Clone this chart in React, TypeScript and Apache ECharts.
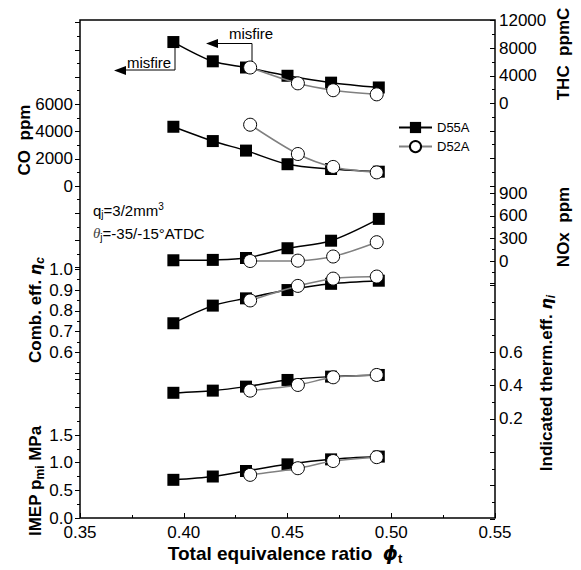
import React, { useEffect, useRef } from "react";
import * as echarts from "echarts";

// ---- data ----
const phiD55A = [0.395, 0.414, 0.43, 0.45, 0.471, 0.494];
const phiD52A = [0.432, 0.455, 0.472, 0.493];

const thcD55A = [8900, 6100, 5200, 4000, 3000, 2300];
const thcD52A = [5200, 2900, 1900, 1300];
const coD55A = [4350, 3300, 2600, 1600, 1250, 1050];
const coD52A = [4500, 2350, 1400, 1000];
const noxD55A = [10, 15, 40, 170, 270, 560];
const noxD52A = [0, 5, 60, 250];
const combD55A = [0.74, 0.825, 0.86, 0.9, 0.93, 0.945];
const combD52A = [0.85, 0.92, 0.955, 0.965];
const thermD55A = [0.357, 0.37, 0.394, 0.434, 0.454, 0.464];
const thermD52A = [0.37, 0.404, 0.45, 0.464];
const imepD55A = [0.69, 0.75, 0.85, 0.97, 1.06, 1.11];
const imepD52A = [0.78, 0.9, 1.03, 1.1];

const xTicks = [0.35, 0.4, 0.45, 0.5, 0.55];

const FONT = "'Liberation Sans', Arial, sans-serif";
const W = 581;
const H = 570;
const L = 80;
const R = W - 495;

const band = (top: number, bottomY: number) => ({
  left: L,
  right: R,
  top,
  bottom: H - bottomY,
});

// panel axes: grid band, range, interval, labeled range, decimals, side
const panels = [
  { key: "co", grid: band(22.6, 267.7), min: -6000, max: 12000, interval: 2000, lo: 0, hi: 6000, dec: 0, pos: "left", a: coD55A, b: coD52A },
  { key: "comb", grid: band(269.3, 373.05), min: 0.5, max: 1.0, interval: 0.1, lo: 0.6, hi: 1.0, dec: 1, pos: "left", a: combD55A, b: combD52A },
  { key: "imep", grid: band(379.7, 518), min: 0, max: 2.5, interval: 0.5, lo: 0, hi: 1.5, dec: 1, pos: "left", a: imepD55A, b: imepD52A },
  { key: "thc", grid: band(20.7, 185.9), min: -12000, max: 12000, interval: 4000, lo: 0, hi: 12000, dec: 0, pos: "right", a: thcD55A, b: thcD52A },
  { key: "nox", grid: band(193.3, 283.6), min: -300, max: 900, interval: 300, lo: 0, hi: 900, dec: 0, pos: "right", a: noxD55A, b: noxD52A },
  { key: "therm", grid: band(285.6, 519), min: -0.4, max: 1.0, interval: 0.2, lo: 0.2, hi: 0.6, dec: 1, pos: "right", a: thermD55A, b: thermD52A },
];

const richBase = { fontFamily: FONT, fontWeight: "bold", fontSize: 17, fill: "#000" };

function buildOption() {
  const grids: any[] = [
    {
      left: L,
      right: R,
      top: 20,
      bottom: H - 518,
      show: true,
      borderColor: "#000",
      borderWidth: 1.5,
      backgroundColor: "transparent",
    },
  ];
  const xAxes: any[] = [
    {
      gridIndex: 0,
      type: "value",
      min: xTicks[0],
      max: xTicks[xTicks.length - 1],
      interval: 0.05,
      axisLine: { show: false },
      axisTick: { show: true, inside: true, length: 5, lineStyle: { color: "#000" } },
      minorTick: { show: true, splitNumber: 2, length: 3, lineStyle: { color: "#000" } },
      splitLine: { show: false },
      axisLabel: {
        fontSize: 17,
        fontFamily: FONT,
        color: "#000",
        margin: 6,
        formatter: (v: number) => v.toFixed(2),
      },
    },
  ];
  const yAxes: any[] = [{ gridIndex: 0, type: "value", show: false }];
  const series: any[] = [];

  panels.forEach((p, i) => {
    const gi = i + 1;
    grids.push({ ...p.grid, show: false });
    xAxes.push({
      gridIndex: gi,
      type: "value",
      min: xTicks[0],
      max: xTicks[xTicks.length - 1],
      show: false,
    });
    const eps = p.interval * 1e-3;
    yAxes.push({
      gridIndex: gi,
      type: "value",
      position: p.pos,
      min: p.min,
      max: p.max,
      interval: p.interval,
      axisLine: { show: false },
      axisTick: { show: true, inside: p.pos === "right", length: 5, lineStyle: { color: "#000" } },
      minorTick: { show: true, splitNumber: 2, length: 3, lineStyle: { color: "#000" } },
      splitLine: { show: false },
      axisLabel: {
        fontSize: 17,
        fontFamily: FONT,
        color: "#000",
        margin: p.pos === "left" ? 7 : 4,
        showMinLabel: true,
        showMaxLabel: true,
        formatter: (v: number) =>
          v >= p.lo - eps && v <= p.hi + eps ? v.toFixed(p.dec) : "",
      },
    });
    series.push({
      name: "D55A",
      type: "line",
      xAxisIndex: gi,
      yAxisIndex: gi,
      data: p.a.map((v, k) => [phiD55A[k], v]),
      symbol: "rect",
      symbolSize: 12,
      smooth: 0.3,
      itemStyle: { color: "#000" },
      lineStyle: { color: "#000", width: 1.5 },
      z: 3,
    });
    series.push({
      name: "D52A",
      type: "line",
      xAxisIndex: gi,
      yAxisIndex: gi,
      data: p.b.map((v, k) => [phiD52A[k], v]),
      symbol: "circle",
      symbolSize: 13,
      smooth: 0.3,
      itemStyle: { color: "#fff", borderColor: "#000", borderWidth: 1 },
      lineStyle: { color: "#808080", width: 1.5 },
      z: 4,
    });
  });

  const vText = (x: number, y: number, text: string, rich: any) => ({
    type: "text",
    x,
    y,
    rotation: Math.PI / 2,
    style: { text, rich, align: "center", verticalAlign: "middle", ...richBase },
  });

  const greek = { ...richBase, fontStyle: "italic", fontFamily: "'DejaVu Sans', sans-serif", fontSize: 16 };
  const sub = { ...richBase, fontStyle: "italic", fontSize: 12, padding: [9, 0, 0, 0] };
  const subUp = { ...richBase, fontSize: 12, padding: [10, 0, 0, 0] };

  const graphic: any[] = [
    vText(24, 140, "{a|CO  ppm}", { a: richBase }),
    vText(35, 310, "{a|Comb. eff. }{b|η}{s|c}", { a: richBase, b: greek, s: sub }),
    vText(35, 481, "{a|IMEP p}{s|mi}{a| MPa}", { a: richBase, s: subUp }),
    vText(563, 54, "{a|THC  ppmC}", { a: richBase }),
    vText(563, 227, "{a|NOx  ppm}", { a: richBase }),
    vText(546, 383, "{a|Indicated therm.eff. }{b|η}{s|i}", { a: richBase, b: greek, s: sub }),
    {
      type: "text",
      x: 285,
      y: 553,
      style: {
        text: "{a|Total equivalence ratio  }{b|ϕ}{s|t}",
        align: "center",
        verticalAlign: "middle",
        rich: {
          a: { ...richBase, fontSize: 19 },
          b: { ...greek, fontSize: 19 },
          s: { ...richBase, fontSize: 13, padding: [10, 0, 0, 0] },
        },
      },
    },
    {
      type: "text",
      x: 93,
      y: 210,
      style: {
        text: "{a|q}{s|j}{a|=3/2mm}{p|3}",
        align: "left",
        verticalAlign: "middle",
        rich: {
          a: { fontFamily: FONT, fontSize: 15, fill: "#000" },
          s: { fontFamily: FONT, fontSize: 10, fill: "#000", padding: [8, 0, 0, 0] },
          p: { fontFamily: FONT, fontSize: 10, fill: "#000", padding: [0, 0, 8, 0] },
        },
      },
    },
    {
      type: "text",
      x: 93,
      y: 233,
      style: {
        text: "{t|θ}{s|j}{a|=-35/-15°ATDC}",
        align: "left",
        verticalAlign: "middle",
        rich: {
          a: { fontFamily: FONT, fontSize: 15, fill: "#000" },
          t: { fontFamily: "'Liberation Serif', serif", fontStyle: "italic", fontSize: 15, fill: "#444" },
          s: { fontFamily: FONT, fontSize: 10, fill: "#000", padding: [8, 0, 0, 0] },
        },
      },
    },
    // misfire annotation 1
    {
      type: "polyline",
      shape: { points: [[175, 47], [175, 70], [122, 70]] },
      style: { stroke: "#000", lineWidth: 1, fill: null },
    },
    {
      type: "polygon",
      shape: { points: [[114, 70.5], [126, 66], [126, 75]] },
      style: { fill: "#000" },
    },
    {
      type: "text",
      x: 127,
      y: 62,
      style: { text: "misfire", fontFamily: FONT, fontSize: 15, fill: "#000", align: "left", verticalAlign: "middle" },
    },
    // misfire annotation 2
    {
      type: "polyline",
      shape: { points: [[252, 61], [252, 43.5], [216, 43.5]] },
      style: { stroke: "#000", lineWidth: 1, fill: null },
    },
    {
      type: "polygon",
      shape: { points: [[206, 43.5], [218, 39], [218, 48]] },
      style: { fill: "#000" },
    },
    {
      type: "text",
      x: 229,
      y: 33,
      style: { text: "misfire", fontFamily: FONT, fontSize: 15, fill: "#000", align: "left", verticalAlign: "middle" },
    },
  ];

  return {
    animation: false,
    backgroundColor: "#fff",
    textStyle: { fontFamily: FONT },
    grid: grids,
    xAxis: xAxes,
    yAxis: yAxes,
    series,
    legend: {
      data: ["D55A", "D52A"],
      orient: "vertical",
      left: 393,
      top: 116,
      itemWidth: 33,
      itemHeight: 14,
      itemGap: 6,
      textStyle: { fontFamily: FONT, fontSize: 13, color: "#000" },
    },
    graphic,
  };
}

export default function App() {
  const ref = useRef<HTMLDivElement>(null);
  useEffect(() => {
    if (!ref.current) return;
    const chart = echarts.init(ref.current, undefined, { renderer: "svg" });
    chart.setOption(buildOption() as any);
    return () => chart.dispose();
  }, []);
  return (
    <div
      ref={ref}
      style={{ position: "fixed", left: 0, top: 0, width: W, height: H, background: "#fff" }}
    />
  );
}
